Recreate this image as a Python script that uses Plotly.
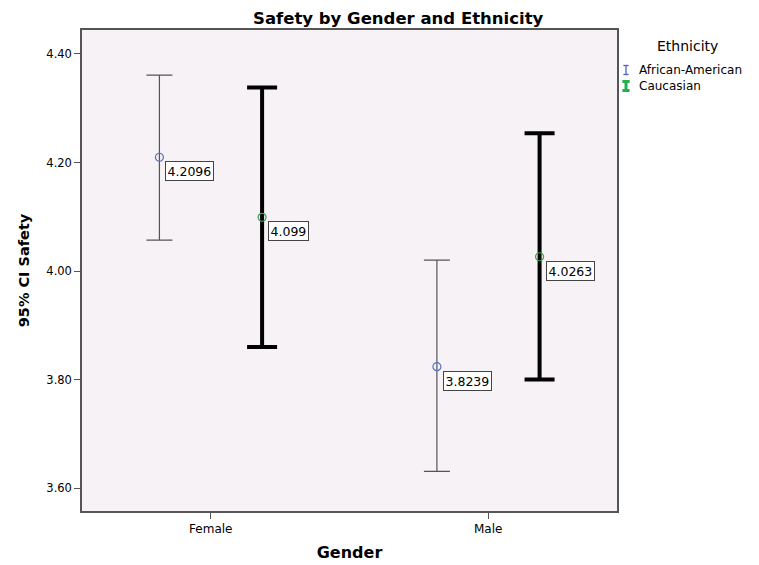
import plotly.graph_objects as go

genders = ["Female", "Male"]
ethnicities = ["African-American", "Caucasian"]
means = {
    "African-American": [4.2096, 3.8239],
    "Caucasian": [4.0990, 4.0263],
}
upper = {
    "African-American": [4.361, 4.020],
    "Caucasian": [4.338, 4.254],
}
lower = {
    "African-American": [4.057, 3.631],
    "Caucasian": [3.860, 3.800],
}
labels = {
    "African-American": ["4.2096", "3.8239"],
    "Caucasian": ["4.099", "4.0263"],
}
y_ticks = [3.60, 3.80, 4.00, 4.20, 4.40]
title_text = "Safety by Gender and Ethnicity"
legend_title = "Ethnicity"

FONT = "DejaVu Sans, Verdana, Arial"

# page has an 8px body margin; figure sized to fill the rest of the window
W, H = 751, 557
ML, MT, MR, MB = 74, 22, 142, 54
PW, PH = W - ML - MR, H - MT - MB
OFF = 8


def px(ix):  # image x -> paper x
    return (ix - OFF - ML) / PW


def py(iy):  # image y -> paper y
    return (H - MB - (iy - OFF)) / PH


style = {
    "African-American": dict(offset=-0.185, mcolor="#5A6FC4", ecolor="#555555",
                             thick=1.2, capw=13, legcol="#4A62C8", legw=1.3, cap=2.6),
    "Caucasian": dict(offset=0.185, mcolor="#3C9E4A", ecolor="#000000",
                      thick=4, capw=15, legcol="#22B14C", legw=3, cap=3.6),
}

fig = go.Figure()
annotations = []
shapes = []
for k, eth in enumerate(ethnicities):
    s = style[eth]
    xs = [i + s["offset"] for i in range(len(genders))]
    m = means[eth]
    fig.add_trace(go.Scatter(
        x=xs, y=m, mode="markers", name=eth, showlegend=False,
        marker=dict(symbol="circle-open", size=8, color=s["mcolor"], line=dict(width=1.2)),
        error_y=dict(type="data", symmetric=False,
                     array=[u - v for u, v in zip(upper[eth], m)],
                     arrayminus=[v - l for v, l in zip(m, lower[eth])],
                     color=s["ecolor"], thickness=s["thick"], width=s["capw"]),
        hoverinfo="skip",
    ))
    for x, y, t in zip(xs, m, labels[eth]):
        annotations.append(dict(
            x=x, y=y, xref="x", yref="y", text=t, showarrow=False,
            xanchor="left", yanchor="top", xshift=6, yshift=-4,
            font=dict(family=FONT, size=12.5, color="#000"),
            bgcolor="white", bordercolor="#444", borderwidth=1, borderpad=1.5,
        ))
    # manual legend entry
    cy = 70 + 16 * k
    sx = 626
    lc = dict(color=s["legcol"], width=s["legw"])
    shapes.append(dict(type="line", xref="paper", yref="paper",
                       x0=px(sx), x1=px(sx), y0=py(cy - 4.5), y1=py(cy + 4.5), line=lc))
    for yy in (cy - 4.5, cy + 4.5):
        shapes.append(dict(type="line", xref="paper", yref="paper",
                           x0=px(sx - s["cap"]), x1=px(sx + s["cap"]),
                           y0=py(yy), y1=py(yy), line=lc))
    annotations.append(dict(
        x=px(637), y=py(cy), xref="paper", yref="paper", text=eth, showarrow=False,
        xanchor="left", yanchor="middle", font=dict(family=FONT, size=12, color="#000")))

annotations.append(dict(
    x=px(687), y=py(46), xref="paper", yref="paper", text=legend_title, showarrow=False,
    xanchor="center", yanchor="middle", font=dict(family=FONT, size=14, color="#000")))

fig.update_layout(
    width=W, height=H,
    margin=dict(l=ML, r=MR, t=MT, b=MB, autoexpand=False),
    paper_bgcolor="white", plot_bgcolor="#F6F2F6",
    font=dict(family=FONT, color="#000"),
    title=dict(text="<b>" + title_text + "</b>", xref="container", x=(253 - OFF) / W,
               xanchor="left", yref="container", y=1 - (18 - OFF) / H, yanchor="middle",
               font=dict(size=16.5, family=FONT)),
    annotations=annotations,
    shapes=shapes,
    showlegend=False,
)
fig.update_xaxes(
    range=[-0.464, 1.464], tickvals=[0, 1], ticktext=genders,
    showgrid=False, zeroline=False, showline=True, linecolor="#555", linewidth=1.5,
    mirror=True, ticks="outside", ticklen=6, tickcolor="#555", automargin=False,
    tickfont=dict(size=12),
    title=dict(text="<b>Gender</b>", font=dict(size=16), standoff=12),
)
fig.update_yaxes(
    range=[3.558, 4.444], tickvals=y_ticks, tickformat=".2f",
    showgrid=False, zeroline=False, showline=True, linecolor="#555", linewidth=1.5,
    mirror=True, ticks="outside", ticklen=6, tickcolor="#555", automargin=False,
    tickfont=dict(size=11.5),
    title=dict(text="<b>95% CI Safety</b>", font=dict(size=14.5), standoff=13),
)

fig.write_html("out.html")
